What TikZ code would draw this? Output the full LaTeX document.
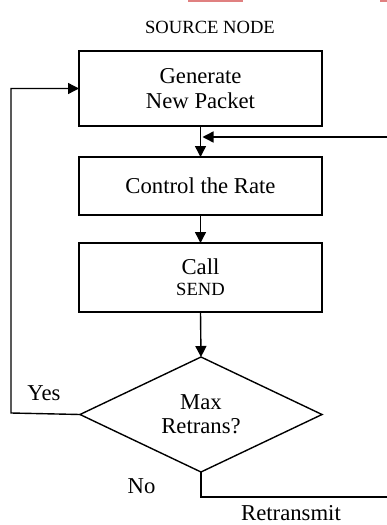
\documentclass[tikz,border=0pt]{standalone}
\usepackage{fontspec}
\setmainfont{Liberation Serif}
\usetikzlibrary{shapes.geometric,arrows.meta}
\definecolor{stripe}{RGB}{224,128,128}
\begin{document}
\begin{tikzpicture}[x=1pt,y=-1pt,
  every node/.style={inner sep=0pt,outer sep=0pt},
  bigtext/.style={font=\fontsize{22.7}{25}\selectfont},
  smalltext/.style={font=\fontsize{18.6}{21}\selectfont},
  procbox/.style={draw,line width=1.4pt,minimum width=243pt,align=center,bigtext},
  decision/.style={draw,line width=1.4pt,diamond,aspect=2.1,minimum width=242pt,minimum height=115pt,align=center,bigtext},
  link/.style={line width=1.4pt},
  arr/.style={link,-{Triangle[length=11pt,width=11pt]}}]
\useasboundingbox (0,0) rectangle (387,525);
% small coloured marks along the top edge
\fill[stripe] (188,0) rectangle (243,2);
\fill[stripe] (380,0) rectangle (387,2);

\node[smalltext,anchor=base] (title) at (210,33) {SOURCE NODE};

\node[procbox,minimum height=75pt] (gen) at (200.5,88.5) {Generate\\New Packet};
\node[procbox,minimum height=58pt] (rate) at (200.5,186) {Control the Rate};
\node[procbox,minimum height=69pt] (send) at (200.5,277.5)
  {Call\\[-4pt]{\fontsize{18.6}{21}\selectfont SEND}};
\node[decision] (maxr) at (201,414.5) {Max\\[-1pt]Retrans?};

\coordinate (rin) at (387,137);
\coordinate (merge) at (202.5,137);
\coordinate (yescorner) at (11,413);
\coordinate (rout) at (387,497);

\draw[arr] (gen.south) -- (rate.north);
\draw[arr] (rin) -- (merge);
\draw[arr] (rate.south) -- (send.north);
\draw[arr] (send.south) -- (maxr.north);
\draw[arr] (maxr.west) -- (yescorner) |- (gen.west);
\draw[link] (maxr.south) |- (rout);

\node[bigtext,anchor=base] (yes) at (44,400) {Yes};
\node[bigtext,anchor=base] (no) at (141.5,493) {No};
\node[bigtext,anchor=base] (retx) at (291,520) {Retransmit};
\end{tikzpicture}
\end{document}
